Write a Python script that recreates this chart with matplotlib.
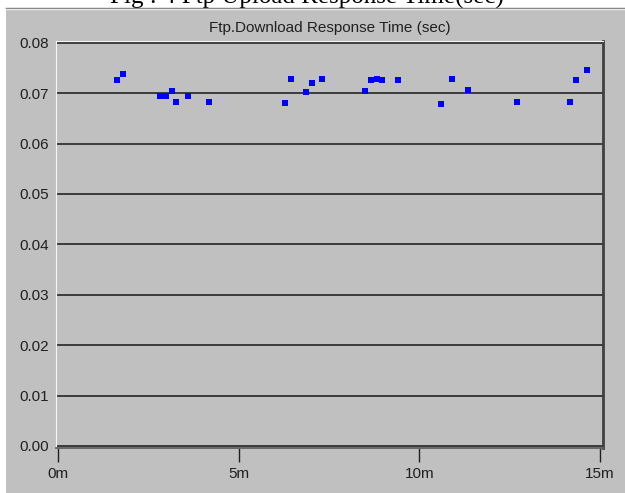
import matplotlib
matplotlib.use('Agg')
import matplotlib.pyplot as plt
from matplotlib.patches import Rectangle
from matplotlib.lines import Line2D

# minutes, response time (sec)
times = [1.63, 1.79, 2.82, 2.99, 3.16, 3.27, 3.60, 4.18, 6.28, 6.44, 6.86, 7.02, 7.31,
         8.51, 8.66, 8.84, 8.96, 9.41, 10.60, 10.90, 11.34, 12.70, 14.18, 14.35, 14.63]
resp = [0.0726, 0.0739, 0.0694, 0.0694, 0.0704, 0.0683, 0.0694, 0.0683, 0.0681, 0.0728,
        0.0702, 0.0720, 0.0728, 0.0704, 0.0726, 0.0728, 0.0726, 0.0726, 0.0678, 0.0728,
        0.0706, 0.0683, 0.0683, 0.0726, 0.0746]
xticks = [0, 5, 10, 15]
xlabels = ['0m', '5m', '10m', '15m']
yticks = [0.00, 0.01, 0.02, 0.03, 0.04, 0.05, 0.06, 0.07, 0.08]

W, H = 625, 493
gray = '#c0c0c0'
fig = plt.figure(figsize=(W / 100, H / 100), dpi=100, facecolor='white')

# caption of the page, cut off at the top like in the original
fig.text(307 / W, 1 - 4 / H, 'Fig : 4 Ftp Upload Response Time(sec)', ha='center',
         va='baseline', fontsize=18, family='Liberation Serif', zorder=0)

# gray panel
fig.patches.append(Rectangle((6 / W, 0), 1, 1 - 8 / H, transform=fig.transFigure,
                             facecolor=gray, edgecolor='none', zorder=1))
fig.lines.append(Line2D([6 / W, 1], [1 - 7.5 / H] * 2, transform=fig.transFigure,
                        color='#707070', lw=1, zorder=2))
fig.lines.append(Line2D([6 / W, 1], [1 - 9 / H] * 2, transform=fig.transFigure,
                        color='#e8e8e8', lw=1, zorder=2))

fig.text(330 / W, 1 - 28 / H, 'Ftp.Download Response Time (sec)', ha='center',
         va='center', fontsize=11, family='Liberation Sans', color='#202020', zorder=3)

ax = fig.add_axes([56 / W, 1 - 448 / H, 547 / W, 407 / H], zorder=3)
ax.set_facecolor(gray)
ax.set_xlim(-0.055, 15.084)
ax.set_ylim(-0.0004, 0.08035)

ax.yaxis.grid(True, color='#303030', lw=1.3)
ax.set_axisbelow(True)
ax.scatter(times, resp, marker='s', s=14, color='#0000ff', linewidths=0, zorder=3)

ax.set_yticks(yticks)
ax.set_yticklabels(['%.2f' % v for v in yticks])
ax.set_xticks(xticks)
ax.set_xticklabels(xlabels)
ax.tick_params(axis='y', length=0, pad=5, labelsize=11, labelcolor='#202020')
ax.tick_params(axis='x', length=10, width=1, color='#202020', pad=4, labelsize=11,
               labelcolor='#202020')
for lbl in ax.get_xticklabels() + ax.get_yticklabels():
    lbl.set_family('Liberation Sans')

ax.spines['left'].set_color('#f4f4f4')
ax.spines['top'].set_color('#f4f4f4')
ax.spines['right'].set_color('#404040')
ax.spines['right'].set_linewidth(2)
ax.spines['bottom'].set_color('#606060')
ax.spines['bottom'].set_linewidth(1.3)

fig.savefig('out.png', dpi=100, facecolor='white')
